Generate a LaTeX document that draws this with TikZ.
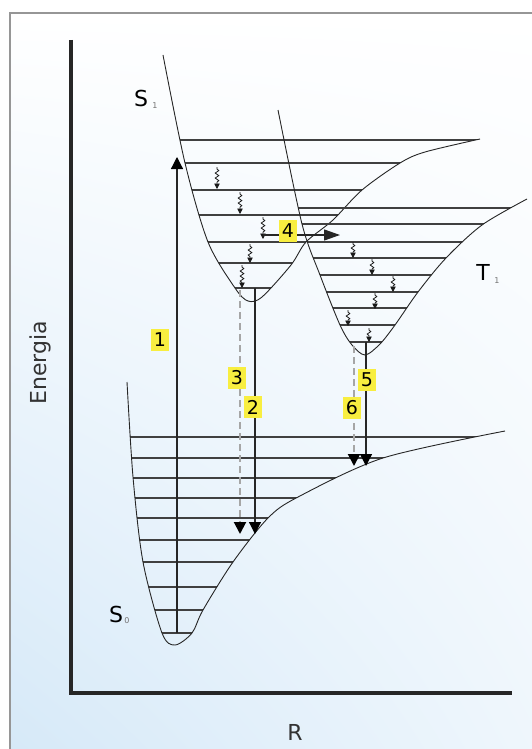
\documentclass[tikz,border=0pt]{standalone}
\usepackage{fontspec}
\setmainfont{DejaVu Sans}
\usetikzlibrary{arrows.meta, decorations.pathmorphing, shadings}
\definecolor{hlyellow}{RGB}{248,238,64}
\definecolor{bgblue}{RGB}{214,233,248}
\definecolor{framegray}{RGB}{150,150,150}

\begin{document}
\begin{tikzpicture}[
    x=1pt, y=-1pt,
    font=\fontsize{22}{26}\selectfont,
    curve/.style={draw=black!85, line width=0.9pt},
    level/.style={draw=black!75, line width=1.4pt},
    axis/.style={draw=black!85, line width=3.6pt},
    trans/.style={
        draw=black!85,
        line width=1.2pt,
        -{Triangle[length=12pt, width=12pt, color=black]}
    },
    transdash/.style={
        trans,
        draw=black!35,
        line width=2pt,
        dash pattern=on 7pt off 4pt
    },
    relax/.style={
        draw=black!90,
        line width=0.8pt,
        decorate,
        decoration={snake, amplitude=1.8pt, segment length=5pt, pre length=2pt, post length=5pt},
        -{Triangle[length=5.5pt, width=5.5pt]}
    },
    tag/.style={
        fill=hlyellow,
        inner sep=0pt,
        minimum width=18pt,
        minimum height=22pt,
        font=\fontsize{19}{20}\selectfont
    },
    sub/.style={font=\fontsize{8}{8}\selectfont, text=black!55}
]

\useasboundingbox (0,0) rectangle (532,749);

% background and frame
\shade[upper left=white, upper right=white, lower left=bgblue, lower right=bgblue!40]
    (10,13) rectangle (532,749);
\draw[framegray, line width=2.5pt] (10,749) -- (10,13) -- (532,13);

% axes
\draw[axis] (71,40) -- (71,693) -- (512,693);
\node[rotate=90, text=black!80] (energy) at (40,363) {Energia};
\node[text=black!80] (rname) at (295,732) {R};

% ------------------------------------------------------------
% S0 well
% ------------------------------------------------------------
\begin{scope}
    \clip plot[smooth] coordinates {(127,382) (133,477) (143,562) (162,633) (175,645)
        (192,633) (203,610) (233,562) (268,518) (298,497) (383,458) (505,431)} -- cycle;
    \foreach \yy in {437,458,478,498,518,540,562,587,610,633}
        \draw[level] (100,\yy) -- (520,\yy);
\end{scope}
\draw[curve] plot[smooth] coordinates {(127,382) (133,477) (143,562) (162,633) (175,645)
    (192,633) (203,610) (233,562) (268,518) (298,497) (383,458) (505,431)};

% ------------------------------------------------------------
% S1 well
% ------------------------------------------------------------
\begin{scope}
    \clip plot[smooth] coordinates {(163,55) (185,163) (208,242) (235,288) (248,301)
        (262,297) (291,265) (306,242) (333,220) (362,190) (400,163) (425,152) (480,139)} -- cycle;
    \foreach \yy in {140,163,190,215,242,263,288}
        \draw[level] (150,\yy) -- (500,\yy);
\end{scope}
\draw[curve] plot[smooth] coordinates {(163,55) (185,163) (208,242) (235,288) (248,301)
    (262,297) (291,265) (306,242) (333,220) (362,190) (400,163) (425,152) (480,139)};

% ------------------------------------------------------------
% T1 well
% ------------------------------------------------------------
\begin{scope}
    \clip plot[smooth] coordinates {(278,110) (302,224) (320,275) (340,325) (352,345) (365,355)
        (380,344) (395,325) (418,292) (446,258) (482,225) (527,199)} -- cycle;
    \foreach \yy in {208,224,242,258,275,292,308,325,342}
        \draw[level] (270,\yy) -- (532,\yy);
\end{scope}
\draw[curve] plot[smooth] coordinates {(278,110) (302,224) (320,275) (340,325) (352,345) (365,355)
    (380,344) (395,325) (418,292) (446,258) (482,225) (527,199)};

% state names
\node (s1name) at (141,98) {S};
\node[sub] (s1sub) at (155,106) {1};
\node (t1name) at (483,272) {T};
\node[sub] (t1sub) at (497,281) {1};
\node (s0name) at (116,614) {S};
\node[sub] (s0sub) at (127,621) {0};

% vibrational relaxation in S1
\draw[relax] (217,167) -- (217,189);
\draw[relax] (240,192) -- (240,214);
\draw[relax] (263,217) -- (263,239);
\draw[relax] (250,244) -- (250,263);
\draw[relax] (242,265) -- (242,288);

% vibrational relaxation in T1
\draw[relax] (353,242) -- (353,258);
\draw[relax] (372,259) -- (372,275);
\draw[relax] (393,276) -- (393,292);
\draw[relax] (375,293) -- (375,309);
\draw[relax] (348,310) -- (348,326);
\draw[relax] (369,328) -- (369,342);

% transition end points
\coordinate (s0low) at (177,633);
\coordinate (s1high) at (177,157);
\coordinate (s1lowa) at (255,288);
\coordinate (s1lowb) at (240,290);
\coordinate (s0hita) at (255,534);
\coordinate (s0hitb) at (240,534);
\coordinate (iscfrom) at (263,235);
\coordinate (iscto) at (340,235);
\coordinate (t1lowa) at (366,342);
\coordinate (t1lowb) at (354,346);
\coordinate (s0hitc) at (366,466);
\coordinate (s0hitd) at (354,466);

\draw[trans] (s0low) -- (s1high);
\draw[trans] (s1lowa) -- (s0hita);
\draw[transdash] (s1lowb) -- (s0hitb);
\draw[trans, -{Triangle[length=16pt, width=11pt]}] (iscfrom) -- (iscto);
\draw[trans] (t1lowa) -- (s0hitc);
\draw[transdash] (t1lowb) -- (s0hitd);

% numbers
\node[tag] (n1) at (160,340) {1};
\node[tag] (n2) at (253,407) {2};
\node[tag] (n3) at (237,378) {3};
\node[tag] (n4) at (288,231) {4};
\node[tag] (n5) at (367,380) {5};
\node[tag] (n6) at (352,408) {6};

\end{tikzpicture}
\end{document}
